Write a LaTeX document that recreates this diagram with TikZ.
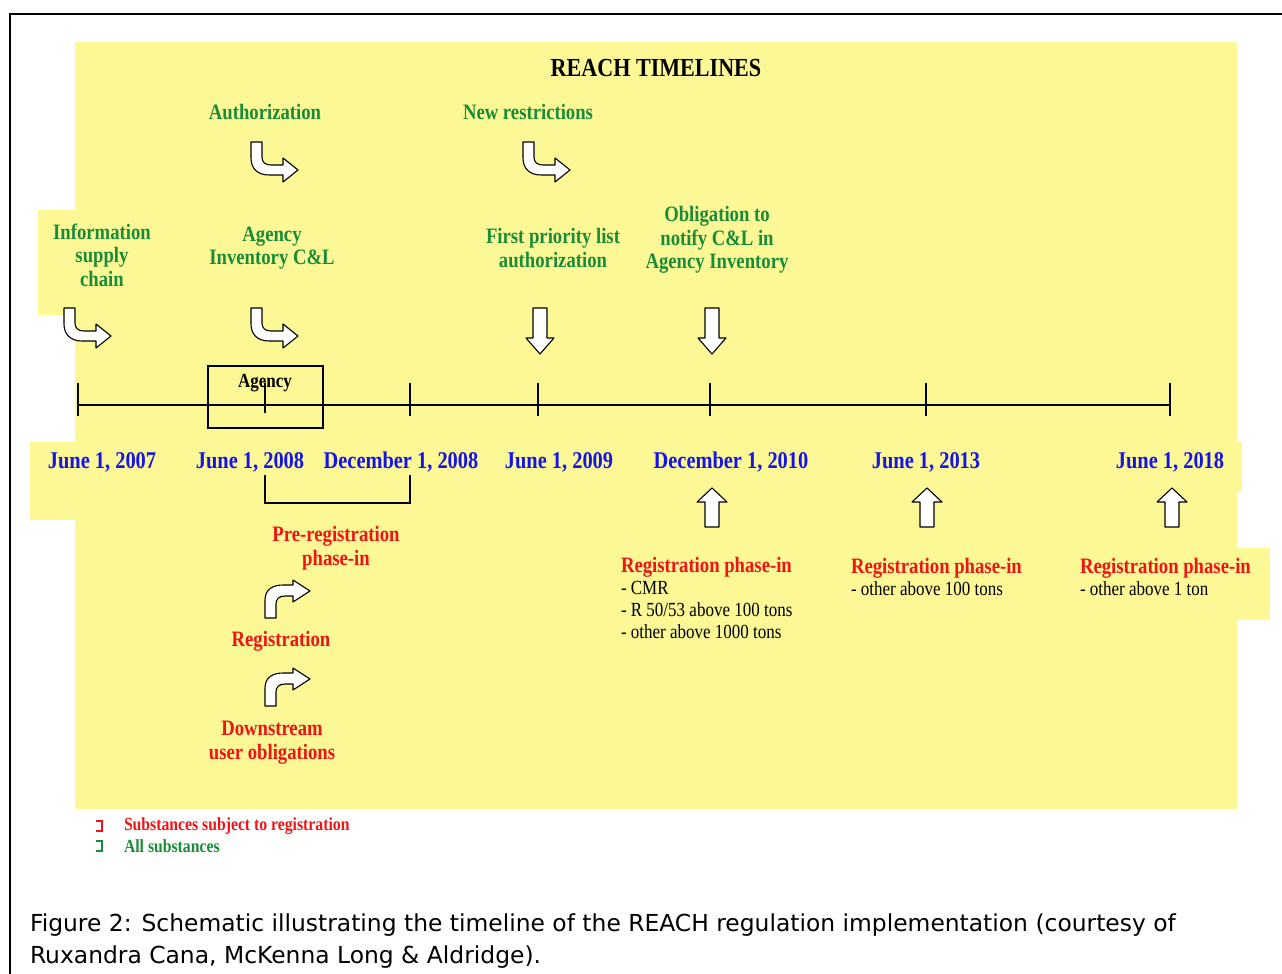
\documentclass[tikz,border=0pt]{standalone}
\usepackage{fontspec}
\setmainfont{Liberation Serif}[FakeStretch=0.85]
\newfontfamily\capfont{DejaVu Sans}
\definecolor{bgyellow}{RGB}{252,248,150}
\definecolor{tgreen}{RGB}{25,140,55}
\definecolor{tblue}{RGB}{20,20,230}
\definecolor{tred}{RGB}{240,20,20}
\tikzset{
  every node/.style={inner sep=0pt, outer sep=0pt},
  gtxt/.style={text=tgreen, font=\bfseries\fontsize{22}{23.5}\selectfont, align=center},
  dtxt/.style={text=tblue, font=\bfseries\fontsize{24}{26}\selectfont},
  rtxt/.style={text=tred, font=\bfseries\fontsize{22}{24}\selectfont, align=center},
  regtxt/.style={font=\fontsize{20}{21.7}\selectfont, align=left, anchor=west},
  legtxt/.style={font=\bfseries\fontsize{18.5}{20}\selectfont, anchor=west},
  blockarrow/.style={draw=black, fill=white, line width=1.1pt, line join=round},
  tick/.style={line width=1.3pt},
  pics/bentdown/.style={code={
    \path[blockarrow] (0,0) -- (11,0) -- (11,15) .. controls (11,20) and (14,23) .. (20,23)
      -- (32,23) -- (32,16) -- (47,28) -- (32,40) -- (32,33) -- (18,33)
      .. controls (6,33) and (0,26) .. (0,16) -- cycle;}},
  pics/bentup/.style={code={
    \path[blockarrow] (0,38) -- (0,20) .. controls (0,10) and (7,5) .. (18,5)
      -- (28,5) -- (28,0) -- (45,11) -- (28,22) -- (28,16) -- (20,16)
      .. controls (14,16) and (11,19) .. (11,24) -- (11,38) -- cycle;}},
  pics/downarrow/.style={code={
    \path[blockarrow] (-7,0) -- (7,0) -- (7,30) -- (14,30) -- (0,46) -- (-14,30) -- (-7,30) -- cycle;}},
  pics/uparrow/.style={code={
    \path[blockarrow] (-7,0) -- (7,0) -- (7,-25) -- (15,-25) -- (0,-39) -- (-15,-25) -- (-7,-25) -- cycle;}},
}
\begin{document}
\begin{tikzpicture}[x=1pt, y=-1pt]
\useasboundingbox (0,0) rectangle (1282,974);
% yellow background
\fill[bgyellow] (75,42) rectangle (1237,809);
\fill[bgyellow] (38,210) rectangle (75,315);
\fill[bgyellow] (30,442) rectangle (1242,492);
\fill[bgyellow] (30,442) rectangle (75,520);
\fill[bgyellow] (1237,548) rectangle (1270,620);
% frame
\draw[line width=2pt] (10,990) -- (10,14) -- (1295,14);

% title
\node[font=\bfseries\fontsize{26}{28}\selectfont] (title) at (656,68) {REACH TIMELINES};

% green labels
\node[gtxt] (auth) at (265,112) {Authorization};
\node[gtxt] (newr) at (528,112) {New restrictions};
\node[gtxt] (info) at (102,255) {Information\\supply\\chain};
\node[gtxt] (agi) at (272,248) {Agency\\Inventory C\&L};
\node[gtxt] (fpl) at (553,248) {First priority list\\authorization};
\node[gtxt] (obl) at (717,240) {Obligation to\\notify C\&L in\\Agency Inventory};

% bent arrows
\pic at (251,142) {bentdown};
\pic at (523,142) {bentdown};
\pic at (64,308) {bentdown};
\pic at (251,308) {bentdown};
% down arrows
\pic at (540,308) {downarrow};
\pic at (712,308) {downarrow};

% timeline
\coordinate (t0) at (78,405);
\coordinate (t1) at (265,405);
\coordinate (t2) at (410,405);
\coordinate (t3) at (538,405);
\coordinate (t4) at (710,405);
\coordinate (t5) at (926,405);
\coordinate (t6) at (1170,405);
\draw[line width=1.3pt] (t0) -- (t6);
\foreach \t in {t0,t2,t3,t5,t6} \draw[tick] ([yshift=-11pt]\t) -- ([yshift=22pt]\t);
\draw[tick] ([yshift=-8pt]t1) -- ([yshift=22pt]t1);
\draw[line width=2.4pt] ([yshift=-11pt]t4) -- ([yshift=22pt]t4);
\node[draw, line width=1.5pt, minimum width=115pt, minimum height=62pt] (agbox) at (265.5,397) {};
\node[font=\bfseries\fontsize{20}{22}\selectfont] (agency) at (265,383) {Agency};

% dates
\node[dtxt] (d1) at (102,462) {June 1, 2007};
\node[dtxt] (d2) at (250,462) {June 1, 2008};
\node[dtxt] (d3) at (401,462) {December 1, 2008};
\node[dtxt] (d4) at (559,462) {June 1, 2009};
\node[dtxt] (d5) at (731,462) {December 1, 2010};
\node[dtxt] (d6) at (926,462) {June 1, 2013};
\node[dtxt] (d7) at (1170,462) {June 1, 2018};

% bracket
\coordinate (b1) at (265,475);
\coordinate (b2) at (410,475);
\draw[line width=1.4pt] (b1) -- ++(0,28) -| (b2);

% up arrows
\pic at (712,527) {uparrow};
\pic at (927,527) {uparrow};
\pic at (1172,527) {uparrow};

% red labels (left column)
\node[rtxt] (prereg) at (336,548) {Pre-registration\\phase-in};
\pic at (265,580) {bentup};
\node[rtxt] (reg) at (281,641) {Registration};
\pic at (265,668) {bentup};
\node[rtxt] (down) at (272,743) {Downstream\\user obligations};

% registration phase-in blocks
\node[regtxt] (r1) at (621,598) {\textcolor{tred}{\bfseries\fontsize{22}{21.7}\selectfont Registration phase-in}\\- CMR\\- R 50/53 above 100 tons\\- other above 1000 tons};
\node[regtxt] (r2) at (851,577) {\textcolor{tred}{\bfseries\fontsize{22}{21.7}\selectfont Registration phase-in}\\- other above 100 tons};
\node[regtxt] (r3) at (1080,577) {\textcolor{tred}{\bfseries\fontsize{22}{21.7}\selectfont Registration phase-in}\\- other above 1 ton};

% legend
\draw[tred, line width=1.2pt] (96,821) -- (102,821) -- (102,831) -- (96,831);
\draw[tgreen, line width=1.2pt] (96,841) -- (102,841) -- (102,851) -- (96,851);
\node[legtxt, text=tred] (leg1) at (124,826) {Substances subject to registration};
\node[legtxt, text=tgreen] (leg2) at (124,846) {All substances};

% caption
\node[font=\capfont\fontsize{23.4}{32}\selectfont, align=left, anchor=west] (cap) at (30,941)
  {Figure 2: Schematic illustrating the timeline of the REACH regulation implementation (courtesy of\\Ruxandra Cana, McKenna Long \& Aldridge).};
\end{tikzpicture}
\end{document}
